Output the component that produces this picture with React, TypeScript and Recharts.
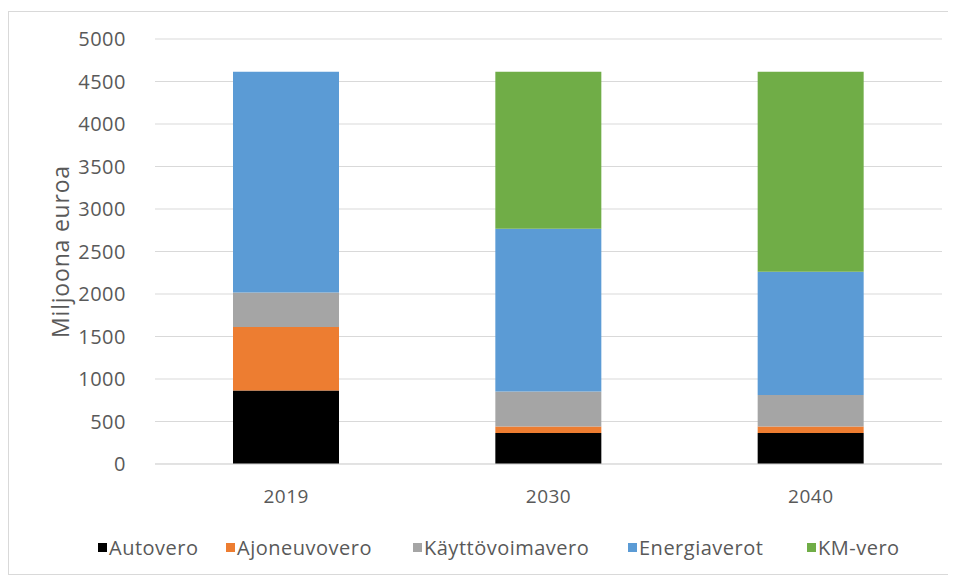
import React from 'react';
import { BarChart, Bar, XAxis, YAxis, CartesianGrid, Legend } from 'recharts';

const years = ['2019', '2030', '2040'];
const autovero = [866, 365, 365];
const ajoneuvovero = [746, 77, 77];
const kayttovoimavero = [407, 412, 370];
const energiaverot = [2596, 1914, 1450];
const kmVero = [0, 1847, 2353];
const yTicks = [0, 500, 1000, 1500, 2000, 2500, 3000, 3500, 4000, 4500, 5000];

const series = [
  { key: 'Autovero', color: '#000000', values: autovero },
  { key: 'Ajoneuvovero', color: '#ED7D31', values: ajoneuvovero },
  { key: 'Käyttövoimavero', color: '#A5A5A5', values: kayttovoimavero },
  { key: 'Energiaverot', color: '#5B9BD5', values: energiaverot },
  { key: 'KM-vero', color: '#70AD47', values: kmVero },
];

// legend item slot widths (layout only)
const legendSlots = [128, 187, 215, 179, 100];

const data = years.map((y, i) => {
  const row: Record<string, string | number> = { year: y };
  series.forEach((s) => {
    row[s.key] = s.values[i];
  });
  return row;
});

const FONT = '"Open Sans", "Noto Sans", sans-serif';

const renderLegend = () => (
  <div
    style={{
      height: 50,
      display: 'flex',
      justifyContent: 'flex-start',
      alignItems: 'flex-start',
      paddingTop: 10,
      paddingLeft: 89,
      boxSizing: 'border-box',
      fontFamily: FONT,
      fontSize: 20,
      letterSpacing: 0.5,
      color: '#595959',
      whiteSpace: 'nowrap',
    }}
  >
    {series.map((s, i) => (
      <div key={s.key} style={{ display: 'flex', alignItems: 'center', width: legendSlots[i] }}>
        <span style={{ display: 'inline-block', width: 9, height: 9, background: s.color, marginRight: 2 }} />
        <span>{s.key}</span>
      </div>
    ))}
  </div>
);

export default function App() {
  return (
    <div
      style={{
        marginTop: 3,
        width: 940,
        height: 562,
        border: '1px solid #d9d9d9',
        background: '#fff',
      }}
    >
      <BarChart
        width={940}
        height={562}
        data={data}
        margin={{ top: 27, right: 7, left: 0, bottom: 0 }}
        barCategoryGap={0}
      >
        <CartesianGrid vertical={false} stroke="#d9d9d9" />
        <XAxis
          dataKey="year"
          height={60}
          tickLine={false}
          axisLine={{ stroke: '#d9d9d9' }}
          tickMargin={20}
          tick={{ fill: '#595959', fontSize: 19, fontFamily: FONT, letterSpacing: 0.5 }}
        />
        <YAxis
          width={146}
          domain={[0, 5000]}
          ticks={yTicks}
          interval={0}
          tickLine={false}
          axisLine={false}
          tickMargin={23}
          tick={{ fill: '#595959', fontSize: 20, fontFamily: FONT, letterSpacing: 0.5 }}
          label={{
            value: 'Miljoona euroa',
            angle: -90,
            position: 'insideLeft',
            dx: 47,
            style: { fill: '#595959', fontSize: 23, fontFamily: FONT, textAnchor: 'middle', letterSpacing: 0.8 },
          }}
        />
        <Legend verticalAlign="bottom" content={renderLegend} />
        {series.map((s) => (
          <Bar
            key={s.key}
            dataKey={s.key}
            stackId="a"
            fill={s.color}
            barSize={106}
            isAnimationActive={false}
          />
        ))}
      </BarChart>
    </div>
  );
}
